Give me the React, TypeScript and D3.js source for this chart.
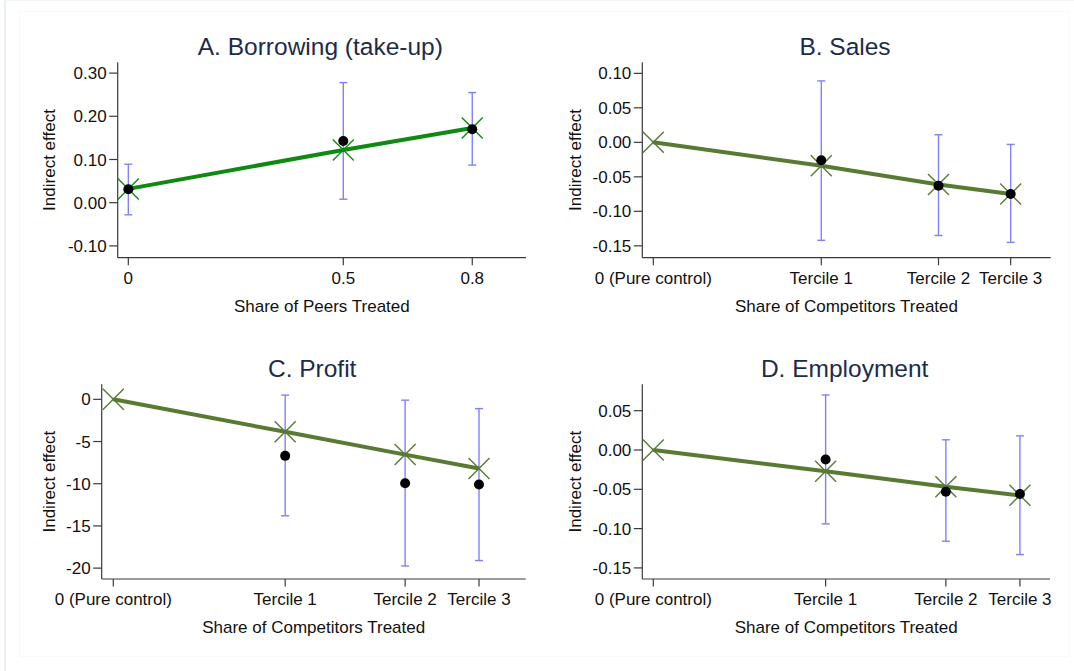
import React from "react";
import * as d3 from "d3";

// Horizontal positions
const peerShare = [0, 0.5, 0.8];
const peerTickLabels = ["0", "0.5", "0.8"];
const competitorShare = [0, 0.47, 0.798, 1];
const competitorTickLabels = ["0 (Pure control)", "Tercile 1", "Tercile 2", "Tercile 3"];

// A. Borrowing (take-up): estimates at each peer share
const borrowEst = [0.031, 0.143, 0.17];
const borrowLo = [-0.028, 0.008, 0.087];
const borrowHi = [0.089, 0.278, 0.255];
const borrowFit = [0.032, 0.122, 0.173];

// B. Sales: estimates per tercile, fitted line includes pure control
const salesEst = [-0.026, -0.063, -0.075];
const salesLo = [-0.142, -0.135, -0.145];
const salesHi = [0.089, 0.011, -0.003];
const salesFit = [0, -0.034, -0.061, -0.075];

// C. Profit
const profitEst = [-6.7, -9.95, -10.1];
const profitLo = [-13.8, -19.75, -19.1];
const profitHi = [0.5, -0.1, -1.1];
const profitFit = [0, -3.85, -6.55, -8.2];

// D. Employment
const employEst = [-0.012, -0.053, -0.056];
const employLo = [-0.094, -0.116, -0.133];
const employHi = [0.07, 0.013, 0.018];
const employFit = [0, -0.027, -0.0467, -0.0577];

const ticksA = [-0.1, 0, 0.1, 0.2, 0.3];
const ticksB = [-0.15, -0.1, -0.05, 0, 0.05, 0.1];
const ticksC = [-20, -15, -10, -5, 0];
const ticksD = [-0.15, -0.1, -0.05, 0, 0.05];

const FONT = "'Liberation Sans', Arial, Helvetica, sans-serif";
const CI_COLOR = "#8080ff";
const TITLE_COLOR = "#1c2b4c";
const AXIS_COLOR = "#3a3a3a";

const hyphen = (f: (n: number) => string) => (v: number) => f(v).replace("\u2212", "-");
const fmt2 = hyphen(d3.format(".2f"));
const fmt0 = hyphen(d3.format("d"));

type Panel = {
  title: string;
  xTitle: string;
  xVals: number[];
  xLabels: string[];
  estX: number[];
  est: number[];
  lo: number[];
  hi: number[];
  fit: number[];
  yTicks: number[];
  yFmt: (v: number) => string;
  xDomain: [number, number];
  yDomain: [number, number];
  box: { x0: number; x1: number; y0: number; y1: number };
  yTitleX: number;
  lineColor: string;
};

const panels: Panel[] = [
  {
    title: "A. Borrowing (take-up)",
    xTitle: "Share of Peers Treated",
    xVals: peerShare,
    xLabels: peerTickLabels,
    estX: peerShare,
    est: borrowEst,
    lo: borrowLo,
    hi: borrowHi,
    fit: borrowFit,
    yTicks: ticksA,
    yFmt: fmt2,
    xDomain: [-0.0247, 0.925],
    yDomain: [-0.1273, 0.325],
    box: { x0: 117.7, x1: 526, y0: 62.3, y1: 257.7 },
    yTitleX: 55,
    lineColor: "#0e8a12",
  },
  {
    title: "B. Sales",
    xTitle: "Share of Competitors Treated",
    xVals: competitorShare,
    xLabels: competitorTickLabels,
    estX: competitorShare.slice(1),
    est: salesEst,
    lo: salesLo,
    hi: salesHi,
    fit: salesFit,
    yTicks: ticksB,
    yFmt: fmt2,
    xDomain: [-0.0308, 1.112],
    yDomain: [-0.1672, 0.116],
    box: { x0: 642.3, x1: 1050.7, y0: 62.3, y1: 257.7 },
    yTitleX: 580.5,
    lineColor: "#587a33",
  },
  {
    title: "C. Profit",
    xTitle: "Share of Competitors Treated",
    xVals: competitorShare,
    xLabels: competitorTickLabels,
    estX: competitorShare.slice(1),
    est: profitEst,
    lo: profitLo,
    hi: profitHi,
    fit: profitFit,
    yTicks: ticksC,
    yFmt: fmt0,
    xDomain: [-0.0317, 1.1277],
    yDomain: [-21.29, 1.78],
    box: { x0: 101.7, x1: 525.7, y0: 384.3, y1: 579 },
    yTitleX: 55,
    lineColor: "#587a33",
  },
  {
    title: "D. Employment",
    xTitle: "Share of Competitors Treated",
    xVals: competitorShare,
    xLabels: competitorTickLabels,
    estX: competitorShare.slice(1),
    est: employEst,
    lo: employLo,
    hi: employHi,
    fit: employFit,
    yTicks: ticksD,
    yFmt: fmt2,
    xDomain: [-0.03, 1.082],
    yDomain: [-0.1641, 0.0836],
    box: { x0: 642.3, x1: 1050, y0: 384.3, y1: 579 },
    yTitleX: 580.5,
    lineColor: "#587a33",
  },
];

function PanelChart({ p }: { p: Panel }) {
  const { box } = p;
  const x = d3.scaleLinear().domain(p.xDomain).range([box.x0, box.x1]);
  const y = d3.scaleLinear().domain(p.yDomain).range([box.y1, box.y0]);
  const fitPts = p.xVals.map((v, i) => [v, p.fit[i]] as [number, number]);
  const line = d3
    .line<[number, number]>()
    .x((d) => x(d[0]))
    .y((d) => y(d[1]));
  const cx = (box.x0 + box.x1) / 2;
  const cy = (box.y0 + box.y1) / 2;
  const m = 10.5;
  const cap = 4;

  return (
    <g>
      <text
        x={cx - 1.5}
        y={box.y0 - 7.5}
        textAnchor="middle"
        fontSize={24.5}
        fill={TITLE_COLOR}
        fontFamily={FONT}
      >
        {p.title}
      </text>

      {/* axes */}
      <line x1={box.x0} x2={box.x0} y1={box.y0} y2={box.y1} stroke={AXIS_COLOR} strokeWidth={1.2} />
      <line x1={box.x0} x2={box.x1} y1={box.y1} y2={box.y1} stroke={AXIS_COLOR} strokeWidth={1.2} />

      {p.yTicks.map((t) => (
        <g key={"y" + t}>
          <line x1={box.x0 - 8.5} x2={box.x0} y1={y(t)} y2={y(t)} stroke={AXIS_COLOR} strokeWidth={1.2} />
          <text
            x={box.x0 - 11}
            y={y(t) + 6}
            textAnchor="end"
            fontSize={17}
            fill="#111"
            fontFamily={FONT}
          >
            {p.yFmt(t)}
          </text>
        </g>
      ))}

      {p.xVals.map((v, i) => (
        <g key={"x" + i}>
          <line x1={x(v)} x2={x(v)} y1={box.y1} y2={box.y1 + 7.5} stroke={AXIS_COLOR} strokeWidth={1.2} />
          <text
            x={x(v)}
            y={box.y1 + 26}
            textAnchor="middle"
            fontSize={17}
            fill="#111"
            fontFamily={FONT}
          >
            {p.xLabels[i]}
          </text>
        </g>
      ))}

      <text
        x={cx}
        y={box.y1 + 54}
        textAnchor="middle"
        fontSize={17}
        fill="#111"
        fontFamily={FONT}
      >
        {p.xTitle}
      </text>
      <text
        transform={`translate(${p.yTitleX},${cy}) rotate(-90)`}
        textAnchor="middle"
        fontSize={17}
        fill="#111"
        fontFamily={FONT}
      >
        Indirect effect
      </text>

      {/* confidence intervals */}
      {p.estX.map((v, i) => (
        <g key={"ci" + i} stroke={CI_COLOR} strokeWidth={1.4}>
          <line x1={x(v)} x2={x(v)} y1={y(p.lo[i])} y2={y(p.hi[i])} />
          <line x1={x(v) - cap} x2={x(v) + cap} y1={y(p.lo[i])} y2={y(p.lo[i])} />
          <line x1={x(v) - cap} x2={x(v) + cap} y1={y(p.hi[i])} y2={y(p.hi[i])} />
        </g>
      ))}

      {/* fitted line with X markers */}
      <path d={line(fitPts) || ""} fill="none" stroke={p.lineColor} strokeWidth={4} />
      {fitPts.map((d, i) => (
        <g key={"m" + i} stroke={p.lineColor} strokeWidth={1.4}>
          <line x1={x(d[0]) - m} x2={x(d[0]) + m} y1={y(d[1]) - m} y2={y(d[1]) + m} />
          <line x1={x(d[0]) - m} x2={x(d[0]) + m} y1={y(d[1]) + m} y2={y(d[1]) - m} />
        </g>
      ))}

      {/* point estimates */}
      {p.estX.map((v, i) => (
        <circle key={"pt" + i} cx={x(v)} cy={y(p.est[i])} r={5} fill="#000" />
      ))}
    </g>
  );
}

export default function App() {
  return (
    <svg
      width={1074}
      height={671}
      style={{ position: "absolute", left: 0, top: 0, background: "#fff" }}
    >
      <rect x={0} y={0} width={1074} height={671} fill="#fff" />
      {/* faint page frame */}
      <line x1={5} x2={5} y1={0} y2={671} stroke="#e9f0f0" strokeWidth={2} />
      <line x1={5} x2={1074} y1={0.5} y2={0.5} stroke="#f1f5f5" strokeWidth={1} />
      <rect x={19.5} y={11.5} width={1049.5} height={645} fill="none" stroke="#f8f9f9" strokeWidth={1} />
      {panels.map((p) => (
        <PanelChart key={p.title} p={p} />
      ))}
    </svg>
  );
}
